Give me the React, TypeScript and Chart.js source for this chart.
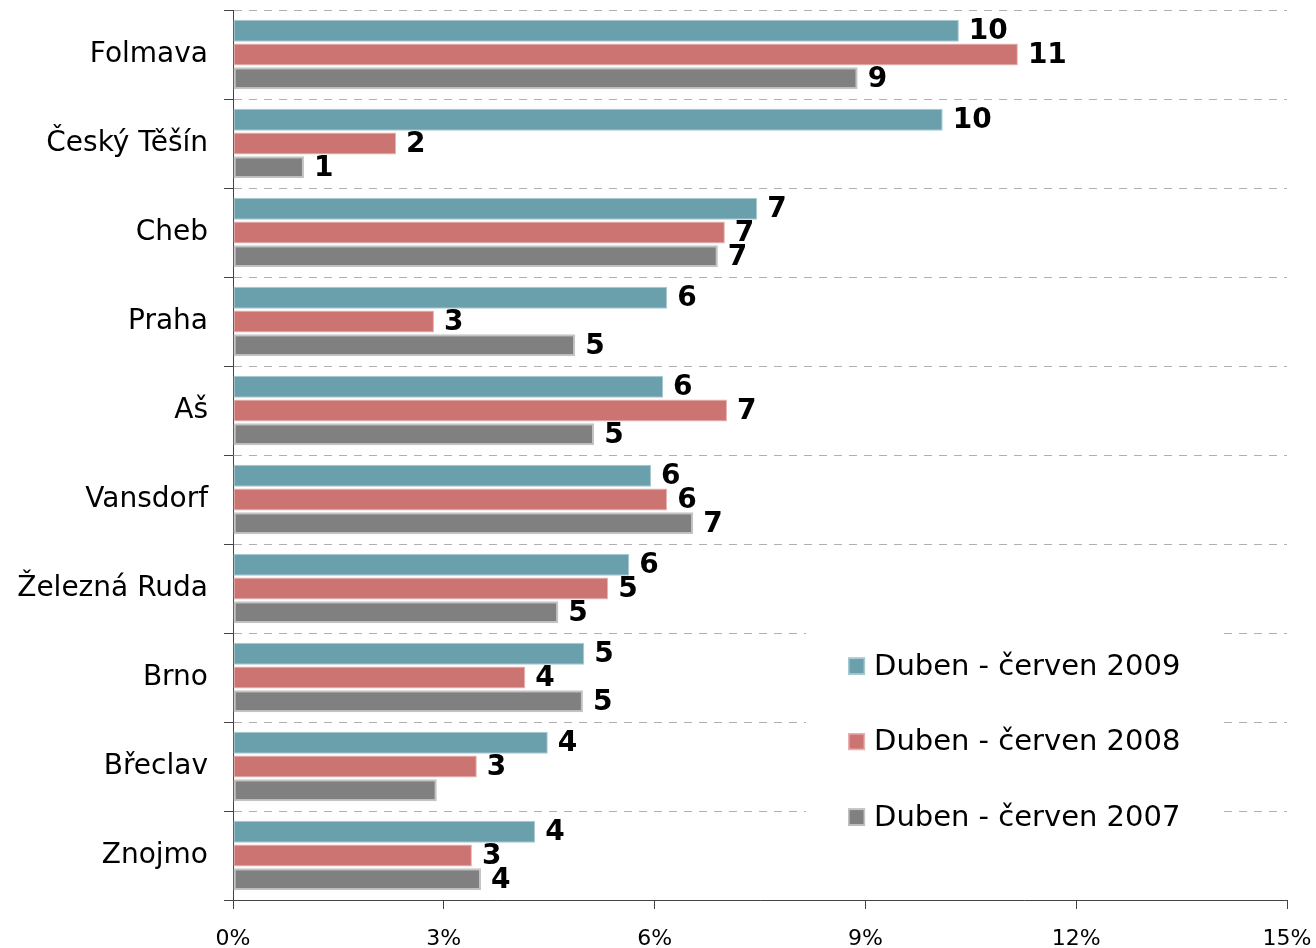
import React, { useEffect, useRef } from "react";
import { Chart, registerables } from "chart.js";

Chart.register(...registerables);

const categories = ["Folmava", "Český Těšín", "Cheb", "Praha", "Aš", "Vansdorf", "Železná Ruda", "Brno", "Břeclav", "Znojmo"];
const seriesNames = ["Duben - červen 2009", "Duben - červen 2008", "Duben - červen 2007"];
const values2009 = [10.33, 10.1, 7.46, 6.18, 6.12, 5.95, 5.64, 5.0, 4.48, 4.3];
const values2008 = [11.17, 2.32, 7.0, 2.86, 7.03, 6.18, 5.34, 4.16, 3.47, 3.4];
const values2007 = [8.89, 1.01, 6.9, 4.87, 5.14, 6.55, 4.63, 4.98, 2.9, 3.53];
const labels2009 = ["10", "10", "7", "6", "6", "6", "6", "5", "4", "4"];
const labels2008 = ["11", "2", "7", "3", "7", "6", "5", "4", "3", "3"];
const labels2007 = ["9", "1", "7", "5", "5", "7", "5", "5", null, "4"];
const xMin = 0;
const xMax = 15;
const xStep = 3;

const FONT = "'DejaVu Sans', Verdana, sans-serif";
const fills = ["#6a9fac", "#cc7471", "#808080"];
const borders = ["#a9c9d1", "#e6b3b1", "#c4c4c4"];

const valueLabelsPlugin = {
  id: "valueLabels",
  afterDatasetsDraw(chart: any) {
    const ctx = chart.ctx;
    const all = [labels2009, labels2008, labels2007];
    ctx.save();
    ctx.font = `bold 28px ${FONT}`;
    ctx.fillStyle = "#000";
    ctx.textAlign = "left";
    ctx.textBaseline = "middle";
    chart.data.datasets.forEach((ds: any, di: number) => {
      const meta = chart.getDatasetMeta(di);
      meta.data.forEach((el: any, i: number) => {
        const txt = all[di][i];
        if (txt == null) return;
        ctx.fillText(txt, el.x + 10, el.y + 1);
      });
    });
    ctx.restore();
  },
};

const boxLegendPlugin = {
  id: "boxLegend",
  afterDraw(chart: any) {
    const { ctx, chartArea } = chart;
    const w = chartArea.right - chartArea.left;
    const h = chartArea.bottom - chartArea.top;
    const bx = chartArea.left + 0.5437 * w;
    const by = chartArea.top + 0.69 * h;
    const bw = 0.39 * w;
    const bh = 0.24 * h;
    ctx.save();
    ctx.fillStyle = "#fff";
    ctx.fillRect(bx, by, bw, bh);
    ctx.font = `29px ${FONT}`;
    ctx.textAlign = "left";
    ctx.textBaseline = "middle";
    seriesNames.forEach((name, i) => {
      const cy = by + 42 + i * 75.5;
      const sx = bx + 42;
      ctx.fillStyle = fills[i];
      ctx.fillRect(sx, cy - 8.5, 17, 17);
      ctx.strokeStyle = borders[i];
      ctx.lineWidth = 1.5;
      ctx.strokeRect(sx + 0.75, cy - 7.75, 15.5, 15.5);
      ctx.fillStyle = "#000";
      ctx.fillText(name, sx + 26, cy + 1);
    });
    ctx.restore();
  },
};

const zeroPad = (s: any) => {
  s.paddingTop = 0;
  s.paddingBottom = 0;
  s.paddingLeft = 0;
  s.paddingRight = 0;
};

export default function App() {
  const ref = useRef<HTMLCanvasElement | null>(null);

  useEffect(() => {
    if (!ref.current) return;
    const chart = new Chart(ref.current, {
      type: "bar",
      data: {
        labels: categories,
        datasets: [values2009, values2008, values2007].map((d, i) => ({
          label: seriesNames[i],
          data: d,
          backgroundColor: fills[i],
          borderColor: borders[i],
          borderWidth: i === 2 ? 2 : 1,
          borderSkipped: false,
          barPercentage: 0.93,
          categoryPercentage: 0.8,
        })),
      },
      options: {
        indexAxis: "y",
        responsive: false,
        animation: false,
        layout: { padding: { top: 10, right: 29, left: 0, bottom: 0 } },
        plugins: {
          legend: { display: false },
          tooltip: { enabled: false },
          title: { display: false },
        },
        scales: {
          x: {
            min: xMin,
            max: xMax,
            ticks: {
              stepSize: xStep,
              color: "#000",
              font: { family: FONT, size: 22 },
              padding: 17,
              maxRotation: 0,
              callback: (v: any) => `${v}%`,
            },
            grid: {
              drawOnChartArea: false,
              drawTicks: true,
              tickLength: 9,
              tickColor: "#444",
            },
            border: { display: true, color: "#444", width: 1 },
            afterFit: (s: any) => {
              s.height = 48;
              zeroPad(s);
            },
          },
          y: {
            ticks: {
              color: "#000",
              font: { family: FONT, size: 28 },
              padding: 16,
            },
            grid: {
              offset: true,
              drawOnChartArea: true,
              color: "#b0b0b0",
              lineWidth: 1,
              tickLength: 9,
              tickColor: "#444",
            },
            border: { display: true, color: "#444", width: 1, dash: [8, 7] },
            afterFit: (s: any) => {
              s.width = 233;
              zeroPad(s);
            },
          },
        },
      },
      plugins: [valueLabelsPlugin, boxLegendPlugin],
    });
    return () => chart.destroy();
  }, []);

  return (
    <div style={{ position: "absolute", left: 0, top: 0, width: 1316, height: 948, background: "#fff" }}>
      <canvas ref={ref} width={1316} height={948} style={{ display: "block" }} />
    </div>
  );
}
